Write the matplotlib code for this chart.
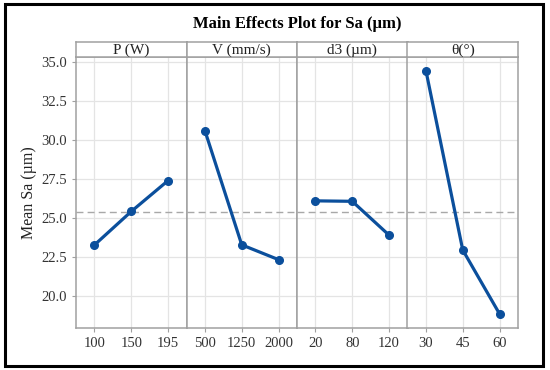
import matplotlib.pyplot as plt
from matplotlib.patches import Rectangle

plt.rcParams['font.family'] = ['Liberation Serif', 'DejaVu Serif']

factors = ['P (W)', 'V (mm/s)', 'd3 (µm)', 'θ(°)']
levels = [['100', '150', '195'],
          ['500', '1250', '2000'],
          ['20', '80', '120'],
          ['30', '45', '60']]
p_means = [23.27, 25.42, 27.40]
v_means = [30.60, 23.28, 22.33]
d3_means = [26.10, 26.07, 23.90]
theta_means = [34.45, 22.95, 18.85]
means = [p_means, v_means, d3_means, theta_means]
grand_mean = 25.38

W, H = 550, 370
fig = plt.figure(figsize=(W / 100, H / 100), dpi=100)

left, right = 76 / W, 518 / W
bottom, top = 1 - 328 / H, 1 - 57 / H
strip_top = 1 - 42 / H
pw = (right - left) / 4
edge = '#a0a0a0'
blue = '#0b4f9c'

for i in range(4):
    ax = fig.add_axes([left + i * pw, bottom, pw, top - bottom])
    x = range(len(levels[i]))
    ax.axhline(grand_mean, color='#a8a8a8', ls=(0, (5, 3)), lw=1, zorder=1)
    ax.plot(x, means[i], color=blue, lw=2.3, marker='o', ms=5.5, zorder=3)
    ax.set_xlim(-0.5, 2.5)
    ax.set_ylim(17.95, 35.32)
    ax.set_xticks(list(x))
    ax.set_xticklabels(levels[i], fontsize=10.5)
    ax.set_yticks([20.0, 22.5, 25.0, 27.5, 30.0, 32.5, 35.0])
    ax.grid(True, color='#e4e4e4', lw=0.9, zorder=0)
    ax.set_axisbelow(True)
    for s in ax.spines.values():
        s.set_color(edge)
        s.set_linewidth(1.1)
    ax.tick_params(colors=edge, labelcolor='#333333', length=3, width=0.8)
    if i == 0:
        ax.set_yticklabels(['%.1f' % v for v in ax.get_yticks()], fontsize=10.5)
        ax.set_ylabel('Mean Sa (µm)', fontsize=11.5, color='#222222', labelpad=3)
    else:
        ax.tick_params(axis='y', left=False, labelleft=False)

    sax = fig.add_axes([left + i * pw, top, pw, strip_top - top])
    sax.set_xticks([])
    sax.set_yticks([])
    for s in sax.spines.values():
        s.set_color(edge)
        s.set_linewidth(1.1)
    sax.text(0.5, 0.45, factors[i], ha='center', va='center', fontsize=11,
             color='#222222', transform=sax.transAxes)

fig.text((left + right) / 2, 1 - 24 / H, 'Main Effects Plot for Sa (µm)',
         ha='center', va='center', fontsize=12, fontweight='bold')

fig.patches.append(Rectangle((5 / W, 4 / H), 538 / W, 362 / H, transform=fig.transFigure,
                             fill=False, edgecolor='black', lw=2.2))

fig.savefig('out.png', dpi=100)
